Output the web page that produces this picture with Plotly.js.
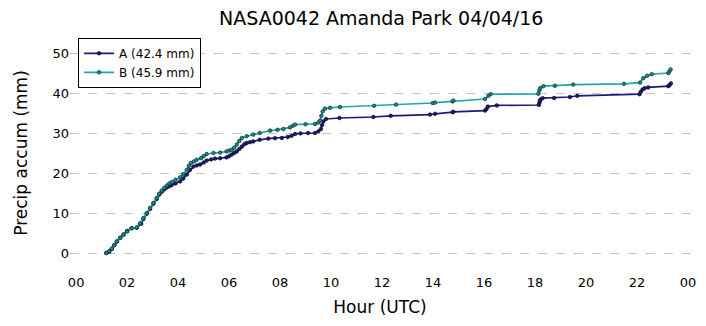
<!DOCTYPE html>
<html>
<head>
<meta charset="utf-8">
<script src="https://cdn.plot.ly/plotly-3.0.1.min.js"></script>
<style>html,body{margin:0;padding:0;background:#fff;}#chart{width:706px;height:326px;}</style>
</head>
<body>
<div id="chart"></div>
<script>
const chartTitle = "NASA0042 Amanda Park 04/04/16";
const seriesNames = ["A (42.4 mm)", "B (45.9 mm)"];
const tickHours = [0, 2, 4, 6, 8, 10, 12, 14, 16, 18, 20, 22, 24];
const tickLabels = ["00", "02", "04", "06", "08", "10", "12", "14", "16", "18", "20", "22", "00"];
const yTicks = [0, 10, 20, 30, 40, 50];

const hoursA = [1.18,1.30,1.40,1.50,1.60,1.73,1.86,2.00,2.18,2.38,2.55,2.64,2.77,2.90,3.03,3.16,3.26,3.36,3.46,3.56,3.66,3.75,3.90,4.08,4.20,4.34,4.47,4.60,4.73,4.86,5.00,5.12,5.30,5.45,5.65,5.90,6.00,6.10,6.20,6.30,6.40,6.50,6.60,6.69,6.82,6.95,7.20,7.54,7.80,8.07,8.30,8.45,8.59,8.80,9.10,9.37,9.50,9.60,9.65,9.70,9.80,10.33,11.66,12.34,13.88,14.08,14.77,14.80,16.04,16.10,16.15,16.50,18.15,18.17,18.19,18.22,18.30,18.75,19.37,19.66,22.10,22.15,22.22,22.30,22.44,23.23,23.28,23.33];
const accumA = [0,0.3,1.0,2.0,2.9,3.8,4.6,5.5,6.2,6.3,7.3,8.5,9.8,11.0,12.3,13.5,14.6,15.3,15.9,16.4,16.7,17.0,17.4,17.9,18.6,19.6,20.8,21.6,21.9,22.1,22.6,23.1,23.4,23.6,23.7,23.9,24.2,24.6,25.0,25.4,26.0,26.6,27.2,27.5,27.7,27.9,28.3,28.6,28.7,28.75,29.0,29.3,29.75,29.9,30.0,30.0,30.4,31.0,32.0,32.9,33.5,33.75,34.0,34.3,34.6,34.8,35.2,35.3,35.6,36.0,36.6,36.9,37.0,37.5,38.0,38.4,38.7,38.75,39.0,39.3,39.7,40.3,40.9,41.2,41.4,41.7,42.0,42.4];

const hoursB = [1.18,1.30,1.40,1.50,1.60,1.73,1.86,2.00,2.18,2.38,2.50,2.64,2.77,2.90,3.03,3.16,3.26,3.36,3.46,3.56,3.66,3.75,3.90,4.08,4.20,4.34,4.42,4.50,4.62,4.73,4.90,5.00,5.12,5.39,5.65,5.90,6.00,6.10,6.20,6.30,6.40,6.50,6.69,6.95,7.20,7.61,7.90,8.13,8.39,8.50,8.59,9.00,9.37,9.50,9.57,9.62,9.67,9.76,9.96,10.35,11.69,12.55,13.99,14.08,14.77,14.80,16.04,16.17,16.26,18.13,18.17,18.20,18.33,18.78,19.50,21.49,22.12,22.25,22.40,22.58,23.23,23.27,23.32];
const accumB = [0,0.5,1.1,2.0,2.9,3.8,4.6,5.4,6.2,6.4,7.4,8.75,10.0,11.25,12.5,13.75,14.8,15.6,16.3,16.9,17.4,17.75,18.3,18.9,19.7,20.8,21.8,22.5,22.9,23.3,23.7,24.2,24.75,25.0,25.1,25.4,25.6,25.8,26.3,27.1,28.0,28.75,29.2,29.6,30.0,30.6,30.8,31.0,31.4,31.8,32.1,32.2,32.25,32.6,33.1,34.3,35.4,36.1,36.3,36.5,36.8,37.1,37.5,37.6,37.9,38.1,38.5,39.3,39.7,39.8,40.6,41.2,41.7,41.8,42.1,42.3,42.6,43.7,44.3,44.7,45.0,45.4,45.9];

const font = "DejaVu Sans, sans-serif";
const traces = [
  {x: hoursA, y: accumA, name: seriesNames[0], type: "scatter", mode: "lines+markers",
   line: {color: "#1c1c78", width: 1.7},
   marker: {color: "#1c1c78", size: 3.5, line: {color: "#0b0b30", width: 0.8}}},
  {x: hoursB, y: accumB, name: seriesNames[1], type: "scatter", mode: "lines+markers",
   line: {color: "#20aaa4", width: 1.7},
   marker: {color: "#1a8f8a", size: 3.5, line: {color: "#0b3533", width: 0.8}}}
];
const layout = {
  width: 706, height: 326,
  margin: {l: 70, r: 16, t: 33, b: 53},
  paper_bgcolor: "#fff", plot_bgcolor: "#fff",
  font: {family: font, color: "#000", size: 13},
  title: {text: chartTitle, font: {family: font, size: 19, color: "#000"}, x: 0.54, xanchor: "center",
          y: 1 - 18 / 326, yanchor: "middle"},
  showlegend: true,
  legend: {x: 0.013, y: 0.98, xanchor: "left", yanchor: "top", bgcolor: "#fff", bordercolor: "#000", borderwidth: 1,
           font: {family: font, size: 12, color: "#000"}, tracegroupgap: 0, itemwidth: 30},
  xaxis: {range: [-0.24, 24.08], tickvals: tickHours, ticktext: tickLabels, showgrid: false, zeroline: false,
          showline: false, ticks: "", tickfont: {family: font, size: 13},
          title: {text: "Hour (UTC)", font: {family: font, size: 17}, standoff: 12}},
  yaxis: {range: [-5, 55], tickvals: yTicks, showgrid: true, gridcolor: "#c4c4c4", griddash: "dash", gridwidth: 1,
          zeroline: false, showline: false, ticks: "", tickfont: {family: font, size: 13},
          title: {text: "Precip accum (mm)", font: {family: font, size: 17}, standoff: 20}}
};
Plotly.newPlot("chart", traces, layout, {displayModeBar: false, staticPlot: true});
</script>
</body>
</html>
